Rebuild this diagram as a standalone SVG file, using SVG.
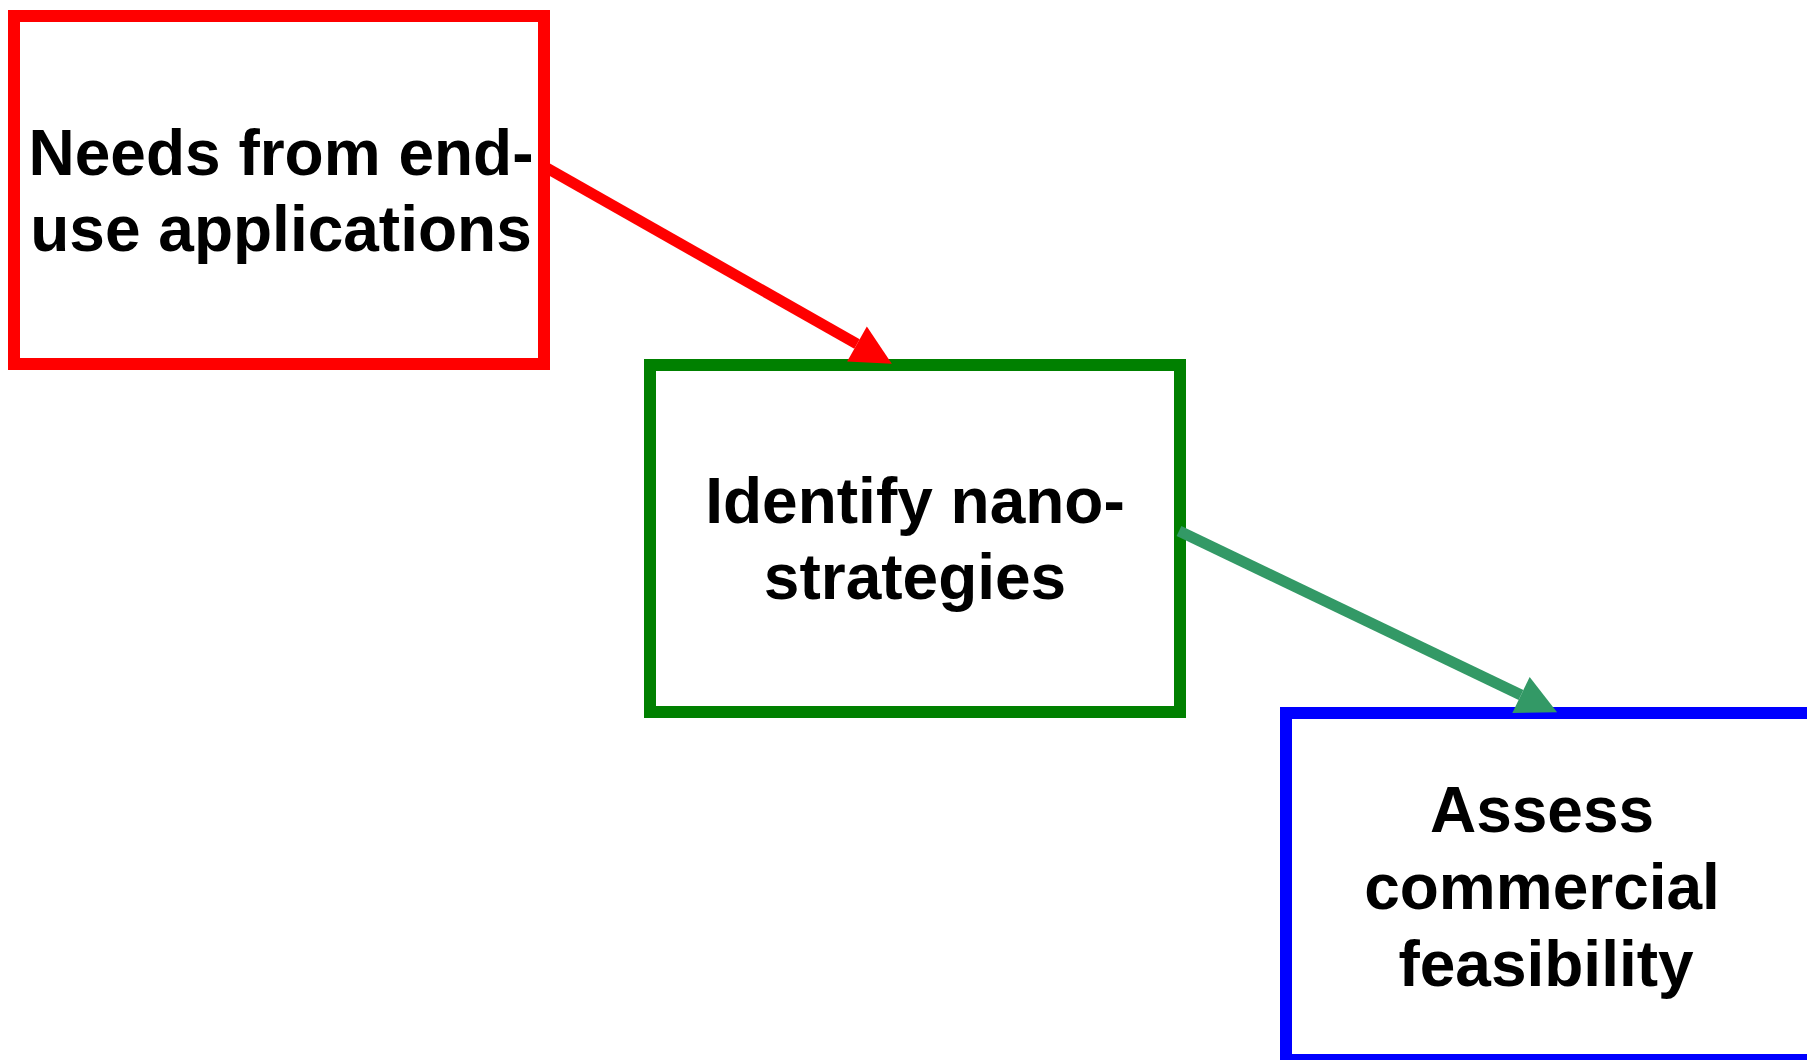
<svg xmlns="http://www.w3.org/2000/svg" width="1807" height="1060" viewBox="0 0 1807 1060">
  <style>
    .box { fill: #ffffff; stroke-width: 12; }
    .lbl { font-family: "Liberation Sans", Arial, sans-serif; font-weight: bold; font-size: 64px; fill: #000000; text-anchor: middle; }
    .conn { fill: none; stroke-width: 11; stroke-linecap: butt; }
  </style>
  <defs>
    <marker id="headRed" markerUnits="userSpaceOnUse" markerWidth="40" markerHeight="40" refX="0" refY="20" orient="auto" overflow="visible">
      <path d="M0,0 L40,20 L0,40 Z" fill="#ff0000"/>
    </marker>
    <marker id="headGreen" markerUnits="userSpaceOnUse" markerWidth="40" markerHeight="40" refX="0" refY="20" orient="auto" overflow="visible">
      <path d="M0,0 L40,20 L0,40 Z" fill="#339966"/>
    </marker>
  </defs>
  <rect width="1807" height="1060" fill="#ffffff"/>
  <g id="node-needs">
    <rect class="box" x="14" y="16" width="530" height="348" stroke="#ff0000"/>
    <text class="lbl" x="281" y="175">Needs from end-</text>
    <text class="lbl" x="281" y="251">use applications</text>
  </g>
  <g id="node-identify">
    <rect class="box" x="650" y="365" width="530" height="347" stroke="#008000"/>
    <text class="lbl" x="915" y="523">Identify nano-</text>
    <text class="lbl" x="915" y="599">strategies</text>
  </g>
  <g id="node-assess">
    <rect class="box" x="1286" y="713" width="530" height="347" stroke="#0000ff"/>
    <text class="lbl" x="1542" y="832">Assess</text>
    <text class="lbl" x="1542" y="909">commercial</text>
    <text class="lbl" x="1546" y="986">feasibility</text>
  </g>
  <g id="connectors">
    <line class="conn" x1="545" y1="167" x2="857" y2="344" stroke="#ff0000" marker-end="url(#headRed)"/>
    <line class="conn" x1="1179" y1="531" x2="1521" y2="695" stroke="#339966" marker-end="url(#headGreen)"/>
  </g>
</svg>
